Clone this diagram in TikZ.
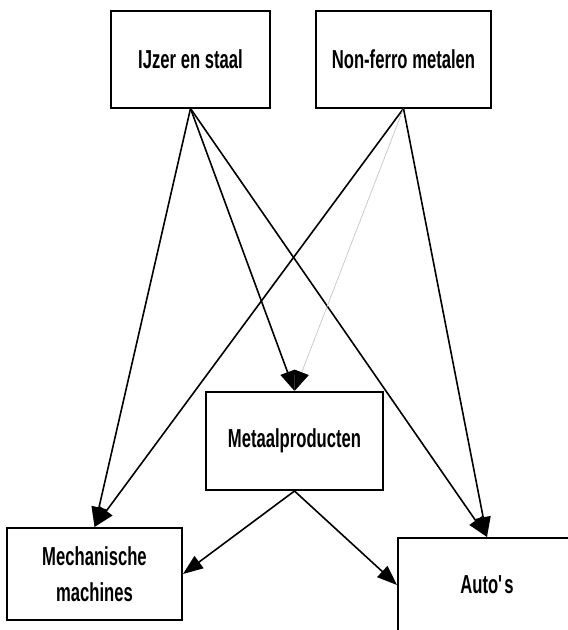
\documentclass[tikz,border=0pt]{standalone}
\usepackage{fontspec}
\setmainfont{Liberation Sans}[FakeStretch=0.64]
\usetikzlibrary{arrows.meta}

\begin{document}
\begin{tikzpicture}[x=1pt,y=-1pt,>={Triangle[length=20pt,width=15pt]},
    box/.style={draw,line width=2pt,inner sep=0pt,align=center,
        font=\fontsize{26}{36}\selectfont\bfseries},
    arr/.style={->,line width=1.6pt}]
            \useasboundingbox (0,0) rectangle (568,630);
            \node[box,minimum width=159,minimum height=97] (ijzer) at (190.5,59) {IJzer en staal};
            \node[box,minimum width=175,minimum height=97] (nonferro) at (403.5,59) {Non-ferro metalen};
            \node[box,minimum width=177,minimum height=98] (metaal) at (294.5,441) {Metaalproducten};
            \node[box,minimum width=175,minimum height=92] (mech) at (94.5,574) {Mechanische\\machines};
            \node[box,minimum width=178,minimum height=94] (autos) at (487,585) {Auto\textquotesingle s};
            \draw[arr] (ijzer.south)--(mech.north);
            \draw[arr] (ijzer.south)--(metaal.north);
            \draw[arr] (ijzer.south)--(autos.north);
            \draw[arr] (nonferro.south)--(mech.north);
            \draw[->,line width=0.7pt,gray!45,>={Triangle[length=20pt,width=15pt,color=black]}] (nonferro.south)--(metaal.north);
            \draw[arr] (nonferro.south)--(autos.north);
            \draw[arr] (metaal.south)--(mech.east);
            \draw[arr] (metaal.south)--(autos.west);
        \end{tikzpicture}
\end{document}
